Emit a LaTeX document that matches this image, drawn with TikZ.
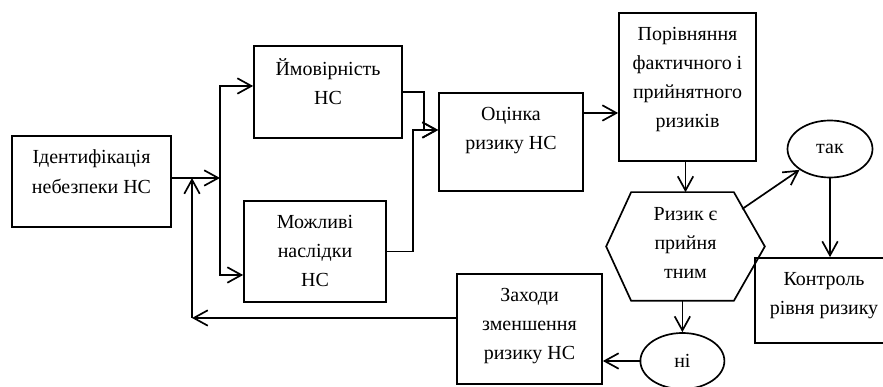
\documentclass[tikz,border=0pt]{standalone}
\usepackage{fontspec}
\setmainfont{Liberation Serif}
\usepackage{tikz}
\usetikzlibrary {arrows.meta,positioning,shapes.geometric}

\begin{document}
\begin{tikzpicture}[line width=1.2pt,
  box/.style={draw, rectangle, inner sep=0pt},
  oval/.style={draw, ellipse, inner sep=0pt, minimum width=2.1cm, minimum height=1.4cm, font=\fontsize{14.2}{20.8}\selectfont},
  txt/.style={inner sep=0pt, align=center, font=\fontsize{14.2}{20.8}\selectfont, execute at begin node=\strut},
  arr/.style={-{Straight Barb[length=10pt, width=11pt]}}]
\useasboundingbox (0,0) rectangle (22.075,9.675);

\node at (2.2875,5.1375) [box, minimum width=3.975cm, minimum height=2.275cm] (ident) {};
\node [txt, below=10pt of ident.north] (identtxt) {Ідентифікація\\небезпеки НС};

\node at (8.2,7.375) [box, minimum width=3.7cm, minimum height=2.3cm] (imov) {};
\node [txt, below=9pt of imov.north] (imovtxt) {Ймовірність\\НС};

\node at (7.875,3.3875) [box, minimum width=3.55cm, minimum height=2.525cm] (naslid) {};
\node [txt, below=10pt of naslid.north] (naslidtxt) {Можливі\\наслідки\\НС};

\node at (12.775,6.125) [box, minimum width=3.6cm, minimum height=2.45cm] (ocinka) {};
\node [txt, below=10pt of ocinka.north] (ocinkatxt) {Оцінка\\ризику НС};

\node at (17.1875,7.5) [box, minimum width=3.425cm, minimum height=3.7cm] (porivn) {};
\node [txt, below=10pt of porivn.north] (porivntxt) {Порівняння\\фактичного і\\прийнятного\\ризиків};

\node at (17.1375,3.5125) [inner sep=0pt, minimum width=3.925cm, minimum height=2.675cm] (hex) {};
\draw (hex.west) -- ([xshift=6.25mm]hex.north west) -- ([xshift=-7.75mm]hex.north east) -- (hex.east)
  -- ([xshift=-7.75mm]hex.south east) -- ([xshift=6.25mm]hex.south west) -- cycle;
\node [txt, below=10pt of hex.north] (hextxt) {Ризик є\\прийня\\тним};

\node at (20.75,5.95) [oval, minimum width=2.125cm, minimum height=1.425cm] (tak) {так};

\node at (20.6,2.1625) [box, minimum width=3.45cm, minimum height=2.125cm] (kontrol) {};
\node [txt, below=10pt of kontrol.north] (kontroltxt) {Контроль\\рівня ризику};

\node at (17.06,0.65) [oval] (ni) {ні};

\node at (13.2375,1.45) [box, minimum width=3.625cm, minimum height=2.75cm] (zahody) {};
\node [txt, below=10pt of zahody.north] (zahodytxt) {Заходи\\зменшення\\ризику НС};

\coordinate (split) at (5.5,5.225);
\coordinate (up) at (5.5,7.525);
\coordinate (down) at (5.5,2.8);
\coordinate (merge) at (10.6,6.425);
\coordinate (lvl) at (15,6.85);
\coordinate (hexedge) at (18.555,4.45);
\coordinate (back) at (4.8,1.725);

\draw [arr] (ident.east |- split) -- (split);
\draw [arr] (split) |- (imov.west |- up);
\draw [arr] (split) |- (naslid.west |- down);
\draw [arr] (imov.east) -| (merge) -- (ocinka.west |- merge);
\draw [arr] (naslid.east) -| ([xshift=-2.75mm]merge) -- (ocinka.west |- merge);
\draw [arr] (ocinka.east |- lvl) -- (porivn.west |- lvl);
\draw [arr] (hex.north |- porivn.south) -- (hex.north);
\draw [arr] (hexedge) -- (tak);
\draw [arr] (tak) -- (tak |- kontrol.north);
\draw [arr] (ni |- hex.south) -- (ni);
\draw [arr] (ni) -- (ni -| zahody.east);
\draw [arr] (zahody.west |- back) -- (back);
\draw [arr] (back) -- (back |- split);
\end{tikzpicture}
\end{document}
